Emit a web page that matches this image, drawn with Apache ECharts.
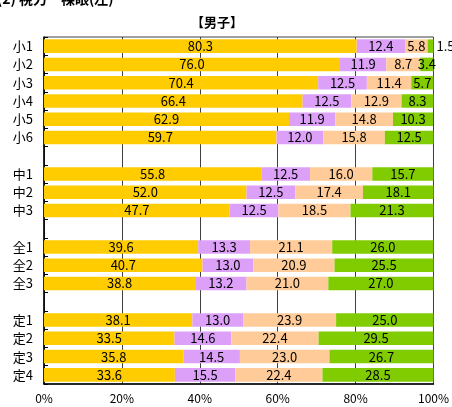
<!DOCTYPE html>
<html><head><meta charset="utf-8">
<script src="https://cdn.jsdelivr.net/npm/echarts@6/dist/echarts.min.js"></script>
<style>html,body{margin:0;padding:0;background:#fff}#c{width:452px;height:407px}</style>
</head><body><div id="c"></div>
<script>
const categories = ['小1','小2','小3','小4','小5','小6','','中1','中2','中3','','全1','全2','全3','','定1','定2','定3','定4'];
const seriesNames = ['1.0以上','0.7以上1.0未満','0.3以上0.7未満','0.3未満'];
const valuesA = [80.3,76.0,70.4,66.4,62.9,59.7,null,55.8,52.0,47.7,null,39.6,40.7,38.8,null,38.1,33.5,35.8,33.6];
const valuesB = [12.4,11.9,12.5,12.5,11.9,12.0,null,12.5,12.5,12.5,null,13.3,13.0,13.2,null,13.0,14.6,14.5,15.5];
const valuesC = [5.8,8.7,11.4,12.9,14.8,15.8,null,16.0,17.4,18.5,null,21.1,20.9,21.0,null,23.9,22.4,23.0,22.4];
const valuesD = [1.5,3.4,5.7,8.3,10.3,12.5,null,15.7,18.1,21.3,null,26.0,25.5,27.0,null,25.0,29.5,26.7,28.5];
const xTicks = [0,20,40,60,80,100];
const colors = ['#FFCC00','#DDA0F8','#FFCC99','#80CC00'];
const font = '"Noto Sans CJK JP", sans-serif';

function mk(vals){
  return vals.map(v => {
    if (v === null) return '-';
    if (v < 2) return {value: v, label: {position: 'right', distance: 3}};
    return v;
  });
}
const all = [valuesA, valuesB, valuesC, valuesD];
const chart = echarts.init(document.getElementById('c'));
chart.setOption({
  animation: false,
  title: [
    {text: '(2) 視力　裸眼(左)', left: -8, top: -13, textStyle: {fontSize: 14, fontWeight: 'bold', color: '#000', fontFamily: font}},
    {text: '【男子】', left: 186, top: 11, textStyle: {fontSize: 13, fontWeight: 'bold', color: '#000', fontFamily: font}}
  ],
  grid: {left: 44, right: 18, top: 37, bottom: 23, show: true, borderColor: '#404040', borderWidth: 1},
  xAxis: {
    type: 'value', min: 0, max: 100, interval: 20,
    axisLabel: {formatter: v => v + '%', color: '#000', fontSize: 12, fontFamily: font, margin: 8},
    axisLine: {show: true, lineStyle: {color: '#000', width: 1.5}},
    axisTick: {show: false},
    splitLine: {show: true, lineStyle: {color: '#404040', width: 1}}
  },
  yAxis: {
    type: 'category', data: categories, inverse: true,
    axisLabel: {color: '#000', fontSize: 13, fontFamily: font, margin: 11},
    axisLine: {show: true, lineStyle: {color: '#000', width: 1.5}},
    axisTick: {show: true, inside: true, length: 4, lineStyle: {color: '#000'}},
    splitLine: {show: false}
  },
  series: all.map((vals, i) => ({
    name: seriesNames[i], type: 'bar', stack: 'total', barCategoryGap: '26%',
    data: mk(vals),
    itemStyle: {color: colors[i]},
    label: {show: true, position: 'inside', color: '#000', fontSize: 13, fontFamily: font,
      formatter: p => (typeof p.value === 'number') ? p.value.toFixed(1) : ''}
  }))
});
</script></body></html>
